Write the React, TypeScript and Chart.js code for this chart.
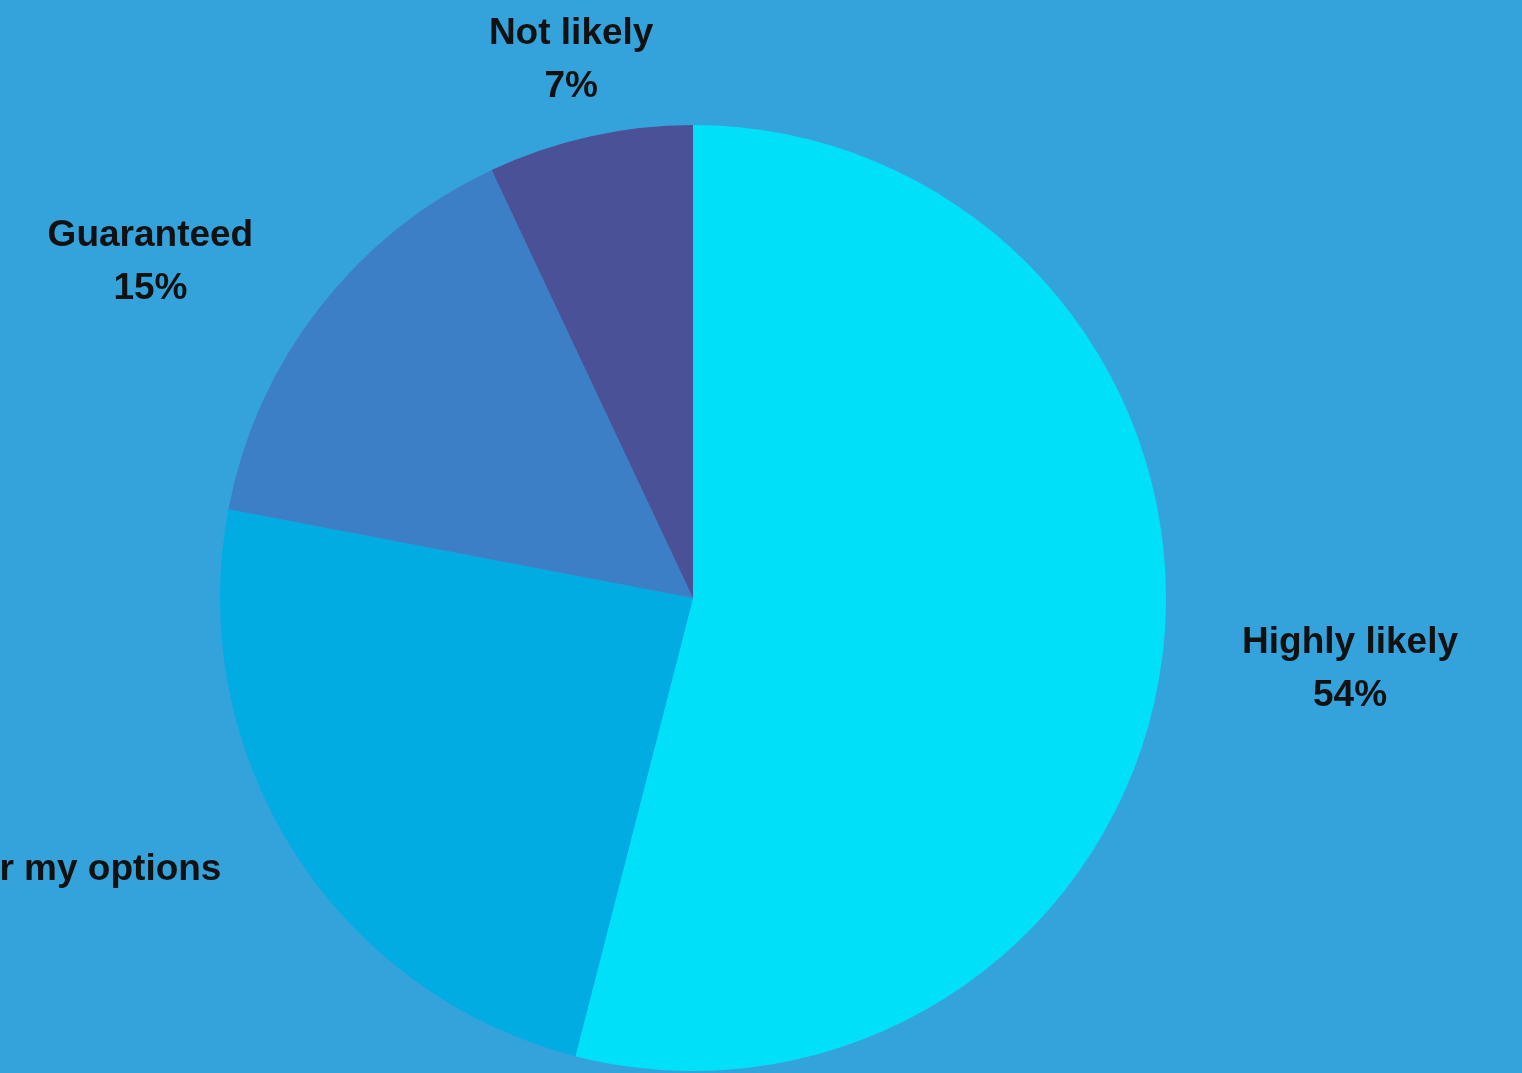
import React, { useEffect, useRef } from "react";
import { Chart, registerables } from "chart.js";

Chart.register(...registerables);

const categories = ["Highly likely", "Would have to consider my options", "Guaranteed", "Not likely"];
const percents = [54, 24, 15, 7];
const sliceColors = ["#00E0F8", "#00ACE2", "#3D7FC6", "#4A5197"];
const labelNudges = [
  [41, 2],
  [-87, 2],
  [-56, 3],
  [8, 2],
];

const BG = "#35A3DB";
const FONT = "bold 37px 'Liberation Sans', Arial, sans-serif";
const LINE_H = 53;
const BOX_H = 80;

const outsideLabels = {
  id: "outsideLabels",
  afterDatasetsDraw(chart: any) {
    const ctx = chart.ctx;
    const meta = chart.getDatasetMeta(0);
    const data = chart.data.datasets[0].data;
    const labels = chart.data.labels;
    ctx.save();
    ctx.font = FONT;
    ctx.fillStyle = "#111111";
    ctx.textAlign = "center";
    ctx.textBaseline = "middle";
    meta.data.forEach((arc: any, i: number) => {
      const p = arc.getProps(["x", "y", "startAngle", "endAngle", "outerRadius"], true);
      const mid = (p.startAngle + p.endAngle) / 2;
      const dx = Math.cos(mid);
      const dy = Math.sin(mid);
      const r = p.outerRadius + 40;
      const lines = [String(labels[i]), data[i] + "%"];
      const w = Math.max(...lines.map((l) => ctx.measureText(l).width));
      const nudge = labelNudges[i] || [0, 0];
      const cx = p.x + dx * r + (dx * w) / 2 + nudge[0];
      const cy = p.y + dy * r + (dy * BOX_H) / 2 + nudge[1];
      ctx.fillText(lines[0], cx, cy - LINE_H / 2);
      ctx.fillText(lines[1], cx, cy + LINE_H / 2);
    });
    ctx.restore();
  },
};

export default function App() {
  const ref = useRef<HTMLCanvasElement | null>(null);
  useEffect(() => {
    if (!ref.current) return;
    const chart = new Chart(ref.current, {
      type: "pie",
      data: {
        labels: categories,
        datasets: [
          {
            data: percents,
            backgroundColor: sliceColors,
            borderWidth: 0,
          },
        ],
      },
      options: {
        responsive: false,
        animation: false,
        layout: { padding: { left: 220, right: 356, top: 125, bottom: 2 } },
        plugins: {
          legend: { display: false },
          tooltip: { enabled: false },
        },
      },
      plugins: [outsideLabels],
    });
    return () => chart.destroy();
  }, []);
  return (
    <div style={{ position: "fixed", left: 0, top: 0, width: 1522, height: 1073, background: BG, overflow: "hidden" }}>
      <canvas ref={ref} width={1522} height={1073} style={{ display: "block" }} />
    </div>
  );
}
